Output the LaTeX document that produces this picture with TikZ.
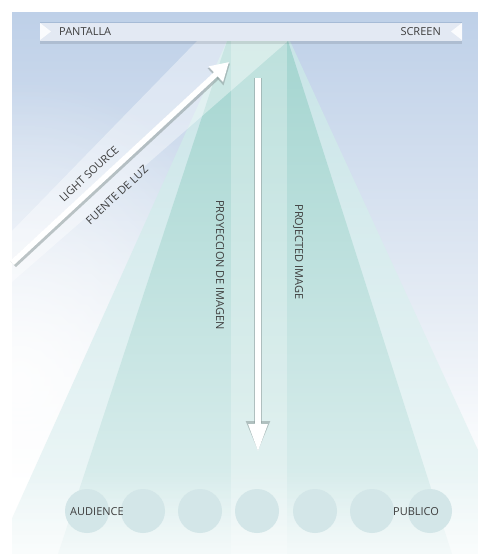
\documentclass[tikz,border=0pt]{standalone}
\usepackage{fontspec}
\setmainfont{Open Sans}
\usetikzlibrary{arrows.meta,fadings}

\definecolor{bgtop}{HTML}{BED0E8}
\definecolor{bgmid}{HTML}{E4EBF4}
\definecolor{outerTop}{HTML}{C8E4E7}
\definecolor{outerBot}{HTML}{F0F8F8}
\definecolor{beamTop}{HTML}{A4D5D0}
\definecolor{beamBot}{HTML}{E0F0F0}
\definecolor{barFill}{HTML}{E3E9F3}
\definecolor{barEdge}{HTML}{A6BBD6}
\definecolor{seat}{HTML}{D3E6E8}
\definecolor{labelGray}{HTML}{3E3E3E}
\definecolor{arrowShade}{HTML}{8C9A9A}

% radial glow: opaque centre, fully transparent rim
\tikzfading[name=softglow, inner color=transparent!0, outer color=transparent!100]

\begin{document}
\begin{tikzpicture}[x=1pt,y=-1pt,
  lbl/.style={text=labelGray, font=\fontsize{11}{13}\selectfont, inner sep=0pt},
  seatdot/.style={circle, fill=seat, minimum size=44pt, inner sep=0pt},
  arrowbody/.style={line width=5.5pt, draw=white, -{Triangle[length=#1]}},
  arrowshade/.style={line width=8pt, draw=arrowShade, opacity=0.55, -{Triangle[length=#1]}}
]
\useasboundingbox (0,0) rectangle (478,554);

% backdrop: blue at the top, white towards the floor
\shade[top color=bgtop, bottom color=bgmid] (12,12) rectangle (478,300.5);
\shade[top color=bgmid, bottom color=white] (12,300) rectangle (478,480.5);
\fill[white] (12,480) rectangle (478,554);

\begin{scope}
  \clip (12,12) rectangle (478,554);
  % glow spreading from the light source in the lower left
  \fill[white, opacity=0.9, path fading=softglow] (20,380) ellipse[x radius=260, y radius=300];
  % wide, pale projection cone
  \shade[top color=outerTop, bottom color=outerBot]
    (227,41) -- (290,41) -- (478,450) -- (478,554) -- (-4,554) -- cycle;
  % main projection cone
  \shade[top color=beamTop, bottom color=beamBot]
    (227,41) -- (288,41) -- (452,554) -- (58,554) -- cycle;
  % brighter central column
  \fill[white, opacity=0.28] (231,41) rectangle (287,554);
  % incoming light band
  \fill[white, opacity=0.4] (197,41) -- (288,41) -- (12,282) -- (12,231) -- cycle;
  % soft fade at the floor
  \fill[white, opacity=0.65, path fading=north] (12,470) rectangle (478,554);
\end{scope}

% screen bar
\fill[black, opacity=0.10] (40,41) rectangle (462,43.5);
\fill[barFill] (40,22) rectangle (462,41);
\draw[barEdge, line width=1pt] (40,22.5) -- (462,22.5);
\fill[white, opacity=0.85] (40,23) -- (51,31.5) -- (40,40) -- cycle;
\fill[white, opacity=0.85] (462,23) -- (451,31.5) -- (462,40) -- cycle;
\node[lbl, anchor=west] (pantalla) at (59,31.5) {PANTALLA};
\node[lbl, anchor=east] (screen) at (441,31.5) {SCREEN};

% light source arrow
\coordinate (lightFrom) at (12,263);
\coordinate (lightTo) at (229,62);
\draw[arrowshade={20pt 0 0, width=22pt 0 0}, transform canvas={xshift=1.2pt, yshift=-1.2pt}]
  (lightFrom) -- (lightTo);
\draw[arrowbody={18pt 0 0, width=20pt 0 0}] (lightFrom) -- (lightTo);
\node[lbl, rotate=43] (lightsrc) at (89,174) {LIGHT SOURCE};
\node[lbl, rotate=43] (fuente) at (117,195) {FUENTE DE LUZ};

% projected image arrow
\coordinate (projFrom) at (258,78);
\coordinate (projTo) at (258,452);
\draw[arrowshade={31pt 0 0, width=22pt 0 0}] (projFrom) -- (projTo);
\draw[arrowbody={28pt 0 0, width=18pt 0 0}] (projFrom) -- (projTo);
\node[lbl, rotate=-90] (proyeccion) at (220,265) {PROYECCION DE IMAGEN};
\node[lbl, rotate=-90] (projected) at (298,252) {PROJECTED IMAGE};

% audience seats
\foreach \sx [count=\i] in {87,143,200,257,315,372,430}
  \node[seatdot] (seat\i) at (\sx,511) {};
\node[lbl, anchor=west] (audience) at (70,512) {AUDIENCE};
\node[lbl, anchor=west] (publico) at (393,512) {PUBLICO};
\end{tikzpicture}
\end{document}
